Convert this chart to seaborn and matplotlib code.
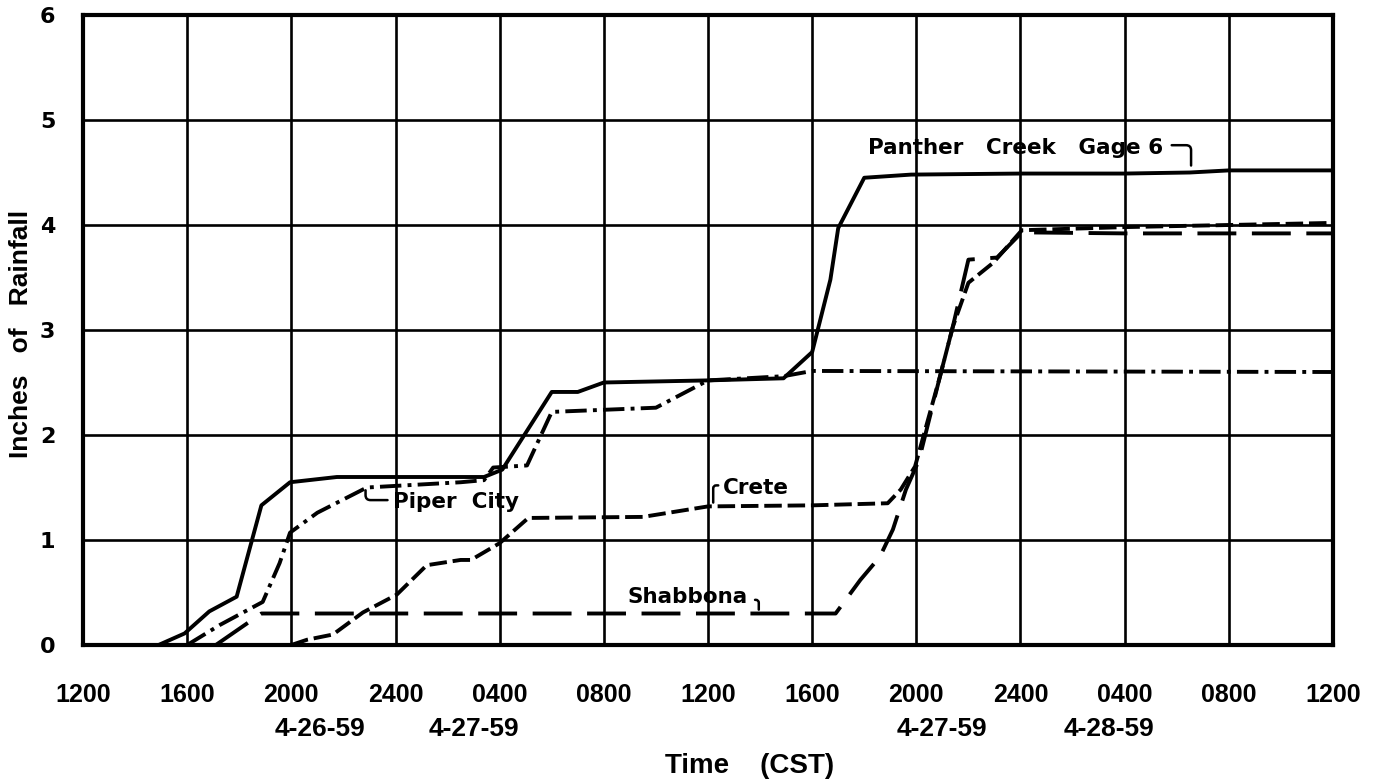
import pandas as pd
import matplotlib
matplotlib.use("Agg")
import matplotlib.pyplot as plt
import matplotlib.transforms as mtransforms
import seaborn as sns

# hours after 1200 CST on 4-26-59 / cumulative inches of rainfall
panther_hours = [0, 2.9, 3.9, 4.85, 5.9, 6.85, 7.95, 9.75, 15.4, 16.1, 18.0, 19.0,
                 20.0, 24.0, 26.9, 28.0, 28.7, 29.0, 30.0, 31.8, 36.0, 40.0, 42.5, 44.0, 48.0]
panther_rain = [0, 0, 0.11, 0.32, 0.46, 1.33, 1.55, 1.6, 1.6, 1.67, 2.41, 2.41,
                2.5, 2.52, 2.54, 2.79, 3.48, 3.97, 4.45, 4.48, 4.49, 4.49, 4.5, 4.52, 4.52]

piper_hours = [4.0, 5.25, 6.9, 7.55, 7.95, 9.0, 10.9, 14.5, 15.4, 15.75, 17.05,
               18.0, 22.0, 24.0, 26.9, 28.0, 48.0]
piper_rain = [0, 0.19, 0.41, 0.78, 1.07, 1.26, 1.5, 1.55, 1.57, 1.69, 1.71,
              2.22, 2.26, 2.52, 2.56, 2.61, 2.6]

crete_hours = [8.0, 8.6, 9.6, 10.75, 12.05, 13.2, 14.5, 14.9, 16.0, 17.1, 21.5, 24.0,
               28.0, 30.9, 31.4, 31.95, 32.9, 33.4, 34.0, 34.95, 36.05, 40.0, 44.0, 48.0]
crete_rain = [0, 0.05, 0.1, 0.31, 0.48, 0.76, 0.81, 0.81, 0.97, 1.21, 1.22, 1.32,
              1.33, 1.35, 1.48, 1.7, 2.55, 3.03, 3.45, 3.64, 3.95, 3.98, 4.0, 4.02]

shabbona_hours = [5.1, 6.85, 28.9, 29.85, 30.6, 31.1, 31.6, 32.1, 32.9, 33.4, 34.0,
                  35.1, 36.05, 40.0, 48.0]
shabbona_rain = [0, 0.3, 0.3, 0.62, 0.84, 1.1, 1.48, 1.76, 2.55, 3.03, 3.67,
                 3.69, 3.93, 3.92, 3.92]

tick_hours = list(range(0, 49, 4))
tick_labels = ["1200", "1600", "2000", "2400", "0400", "0800", "1200",
               "1600", "2000", "2400", "0400", "0800", "1200"]
date_labels = ["4-26-59", "4-27-59", "4-27-59", "4-28-59"]
date_hours = [9.1, 15.0, 33.0, 39.4]
rain_ticks = [0, 1, 2, 3, 4, 5, 6]

sns.set_theme(style="white")
plt.rcParams["font.family"] = ["DejaVu Sans"]
plt.rcParams["text.color"] = "black"
plt.rcParams["axes.labelcolor"] = "black"
plt.rcParams["xtick.color"] = "black"
plt.rcParams["ytick.color"] = "black"

gauges = [
    ("Panther Creek Gage 6", panther_hours, panther_rain, "-"),
    ("Piper City", piper_hours, piper_rain, (0, (5.5, 1.6, 1.0, 1.6))),
    ("Crete", crete_hours, crete_rain, (0, (4.5, 1.5))),
    ("Shabbona", shabbona_hours, shabbona_rain, (0, (10, 4))),
]

fig = plt.figure(figsize=(13.88, 7.83), dpi=100)
ax = fig.add_axes([83 / 1388, 138 / 783, 1250 / 1388, 630 / 783])

for name, hours, rain, style in gauges:
    df = pd.DataFrame({"hours": hours, "rain": rain})
    sns.lineplot(data=df, x="hours", y="rain", ax=ax, color="black",
                 linewidth=2.8, linestyle=style, estimator=None, sort=False)

ax.set_xlim(0, 48)
ax.set_ylim(0, 6)
ax.set_xticks(tick_hours)
ax.set_xticklabels(tick_labels, family=["Liberation Sans", "DejaVu Sans"],
                   weight="bold", fontsize=18)
ax.set_yticks(rain_ticks)
ax.set_yticklabels([str(v) for v in rain_ticks], weight="bold", fontsize=16)
ax.tick_params(axis="x", length=0, pad=27, labelcolor="black")
ax.tick_params(axis="y", length=0, pad=20, labelcolor="black")
ax.grid(True, color="black", linewidth=1.9)
for sp in ax.spines.values():
    sp.set_color("black")
    sp.set_linewidth(3.0)

ax.set_xlabel("Time    (CST)", family=["Liberation Sans", "DejaVu Sans"],
              weight="bold", fontsize=20, color="black")
ax.xaxis.set_label_coords((750 - 83) / 1250, -(753 - 645) / 630)
ax.set_ylabel("Inches   of   Rainfall", family=["Liberation Sans", "DejaVu Sans"],
              weight="bold", fontsize=19, color="black")
ax.yaxis.set_label_coords(-(83 - 33) / 1250, (645 - 334) / 630)

trans = mtransforms.blended_transform_factory(ax.transData, ax.transAxes)
for label, h in zip(date_labels, date_hours):
    ax.text(h, -(717 - 645) / 630, label, transform=trans, ha="center", va="top",
            family=["Liberation Sans", "DejaVu Sans"], weight="bold", fontsize=19,
            color="black")

# gauge names with hooked leaders
note_kw = dict(weight="bold", fontsize=15.5, va="center", ha="left", color="black")
ax.text(30.15, 4.73, "Panther   Creek   Gage 6", **note_kw)
ax.text(11.9, 1.36, "Piper  City", **note_kw)
ax.text(24.58, 1.5, "Crete", **note_kw)
ax.text(20.9, 0.46, "Shabbona", **note_kw)

hook = dict(arrowstyle="-", color="black", lw=1.8)
ax.annotate("", xy=(42.55, 4.54), xytext=(41.7, 4.76),
            arrowprops=dict(hook, connectionstyle="angle,angleA=0,angleB=90,rad=5"))
ax.annotate("", xy=(10.85, 1.5), xytext=(11.8, 1.38),
            arrowprops=dict(hook, connectionstyle="angle,angleA=180,angleB=90,rad=5"))
ax.annotate("", xy=(24.2, 1.33), xytext=(24.5, 1.52),
            arrowprops=dict(hook, connectionstyle="angle,angleA=180,angleB=90,rad=3"))
ax.annotate("", xy=(25.95, 0.31), xytext=(25.7, 0.43),
            arrowprops=dict(hook, connectionstyle="angle,angleA=0,angleB=90,rad=3"))

fig.savefig("out.png", dpi=100, facecolor="white")
